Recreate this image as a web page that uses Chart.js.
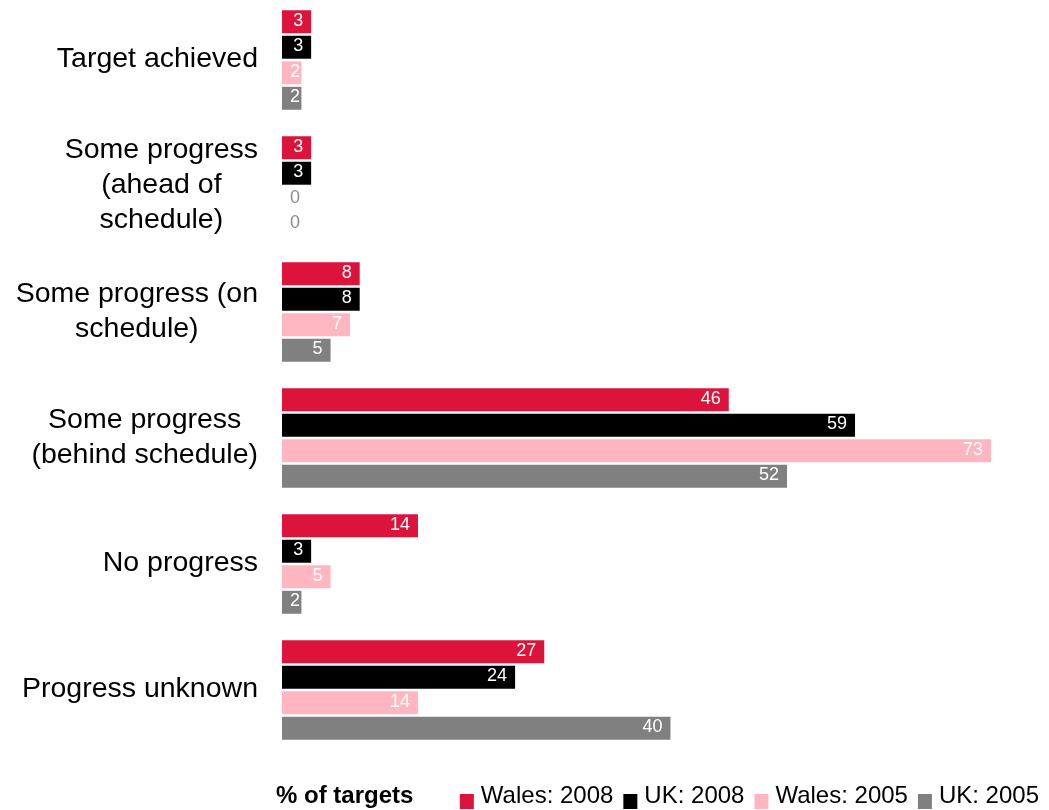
<!DOCTYPE html>
<html>
<head>
<meta charset="utf-8">
<script src="https://cdn.jsdelivr.net/npm/chart.js@4/dist/chart.umd.min.js"></script>
<style>
  html, body { margin: 0; padding: 0; background: #ffffff; overflow: hidden; }
  canvas { display: block; margin-top: -3px; }
</style>
</head>
<body>
<canvas id="chart" width="1049" height="813"></canvas>
<script>
// Categories (each entry is the list of lines shown for that row)
const categories = [
  ["Target achieved"],
  ["Some progress", "(ahead of", "schedule)"],
  ["Some progress (on", "schedule)"],
  ["Some progress", "(behind schedule)"],
  ["No progress"],
  ["Progress unknown"]
];

// Series values, % of targets
const seriesNames = ["Wales: 2008", "UK: 2008", "Wales: 2005", "UK: 2005"];
const wales2008 = [3, 3, 8, 46, 14, 27];
const uk2008    = [3, 3, 8, 59, 3, 24];
const wales2005 = [2, 0, 7, 73, 5, 14];
const uk2005    = [2, 0, 5, 52, 2, 40];
const seriesColors = ["#DC143C", "#000000", "#FFB6C1", "#808080"];
const axisTitle = "% of targets";

const FONT = '"Liberation Sans", Arial, sans-serif';

// Row labels: block right-aligned against the plot, lines centred within the block
const rowLabels = {
  id: 'rowLabels',
  afterDraw(chart) {
    const { ctx, chartArea } = chart;
    const y = chart.scales.y;
    const right = chartArea.left - 24;
    ctx.save();
    ctx.font = '28.5px ' + FONT;
    ctx.fillStyle = '#000000';
    ctx.textAlign = 'center';
    ctx.textBaseline = 'alphabetic';
    const lineH = 35;
    categories.forEach((lines, i) => {
      const yc = y.getPixelForValue(i);
      const blockW = Math.max(...lines.map(l => ctx.measureText(l).width));
      const cx = right - blockW / 2;
      lines.forEach((line, j) => {
        const ly = yc + (j - (lines.length - 1) / 2) * lineH;
        ctx.fillText(line, cx, ly + 7);
      });
    });
    ctx.restore();
  }
};

// Value labels inside the bar ends
const valueLabels = {
  id: 'valueLabels',
  afterDatasetsDraw(chart) {
    const { ctx } = chart;
    const base = chart.scales.x.getPixelForValue(0);
    ctx.save();
    ctx.font = '18px ' + FONT;
    ctx.textAlign = 'right';
    ctx.textBaseline = 'alphabetic';
    chart.data.datasets.forEach((ds, di) => {
      const meta = chart.getDatasetMeta(di);
      meta.data.forEach((bar, i) => {
        const v = ds.data[i];
        const tx = Math.max(bar.x - 8, base + 18);
        const ty = bar.y + 4;
        if (v > 0) {
          ctx.save();
          ctx.beginPath();
          ctx.rect(base, bar.y - bar.height / 2, bar.x - base, bar.height);
          ctx.clip();
          ctx.fillStyle = '#ffffff';
          ctx.fillText(String(v), tx, ty);
          ctx.restore();
        } else {
          ctx.fillStyle = '#8c8c8c';
          ctx.fillText(String(v), tx, ty);
        }
      });
    });
    ctx.restore();
  }
};

// Bottom legend with the axis title on the left
const bottomLegend = {
  id: 'bottomLegend',
  afterDraw(chart) {
    const { ctx, width } = chart;
    const baseline = 806;
    ctx.save();
    ctx.textBaseline = 'alphabetic';
    ctx.textAlign = 'left';
    ctx.fillStyle = '#000000';
    ctx.font = 'bold 24px ' + FONT;
    ctx.fillText(axisTitle, 276, baseline);

    ctx.font = '24px ' + FONT;
    const boxW = 14, boxH = 15, gapText = 7, gapItem = 10;
    const items = chart.data.datasets.map(ds => ({
      label: ds.label, color: ds.backgroundColor,
      w: boxW + gapText + ctx.measureText(ds.label).width
    }));
    const total = items.reduce((s, it) => s + it.w, 0) + gapItem * (items.length - 1);
    let x = width - 10 - total;
    items.forEach(it => {
      ctx.fillStyle = it.color;
      ctx.fillRect(x, baseline + 6 - boxH, boxW, boxH);
      ctx.fillStyle = '#000000';
      ctx.fillText(it.label, x + boxW + gapText, baseline);
      x += it.w + gapItem;
    });
    ctx.restore();
  }
};

const seriesData = [wales2008, uk2008, wales2005, uk2005];

new Chart(document.getElementById('chart'), {
  type: 'bar',
  data: {
    labels: categories.map(c => c.join(' ')),
    datasets: seriesNames.map((name, k) => ({
      label: name,
      data: seriesData[k],
      backgroundColor: seriesColors[k],
      borderWidth: 0,
      barPercentage: 0.9,
      categoryPercentage: 0.81
    }))
  },
  options: {
    indexAxis: 'y',
    responsive: false,
    devicePixelRatio: 1,
    animation: false,
    layout: { padding: { left: 282, right: 58, top: 0, bottom: 57 } },
    scales: {
      x: { display: false, min: 0, max: 73 },
      y: { display: false }
    },
    plugins: {
      legend: { display: false },
      tooltip: { enabled: false }
    }
  },
  plugins: [rowLabels, valueLabels, bottomLegend]
});
</script>
</body>
</html>
